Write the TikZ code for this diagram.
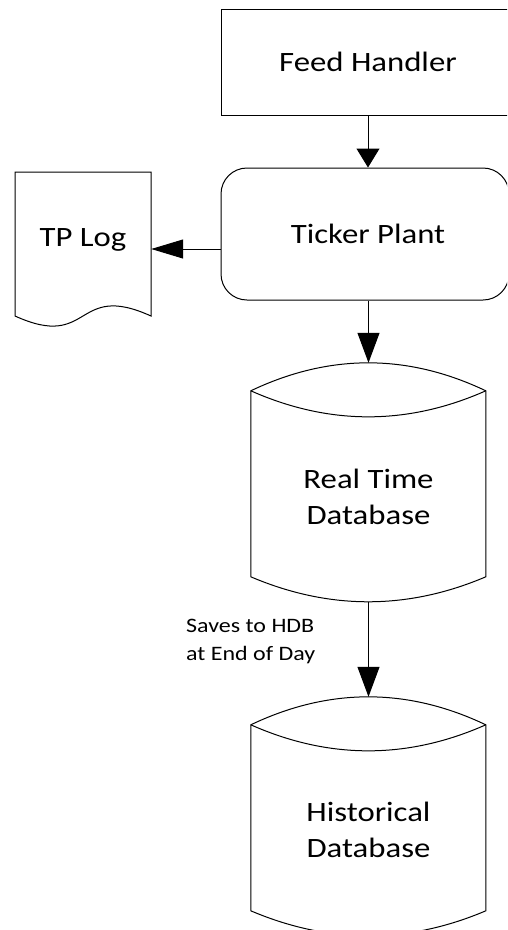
\documentclass[tikz,border=0pt]{standalone}
\usepackage{fontspec}
\setmainfont[FakeStretch=1.17]{Carlito}
\usetikzlibrary{arrows.meta,calc}
\tikzset{
  outline/.style={draw=black,line width=1pt},
  boxnode/.style={outline,minimum width=294pt,minimum height=105.5pt,inner sep=0pt,font=\fontsize{28}{36}\selectfont},
  roundnode/.style={outline,rounded corners=26pt,minimum width=288pt,minimum height=132pt,inner sep=0pt,font=\fontsize{28}{36}\selectfont},
  bigtext/.style={align=center,inner sep=0pt,font=\fontsize{28}{36}\selectfont},
  smalltext/.style={align=left,inner sep=0pt,font=\fontsize{20.5}{28}\selectfont},
  conn/.style={draw=black,line width=1pt},
  headA/.style={-{Triangle[length=19pt,width=23pt]}},
  headB/.style={-{Triangle[length=32pt,width=19pt]}},
  headC/.style={-{Triangle[length=30pt,width=22pt]}},
}
\newcommand\lensdb[1]{%
  \begin{scope}[shift={(#1.north west)}]
    \draw[outline] (0,28) .. controls (78.3,-9.3) and (156.7,-9.3) .. (235,28)
      -- (235,214) .. controls (156.7,247.3) and (78.3,247.3) .. (0,214) -- cycle;
    \draw[outline] (0,28) .. controls (78.3,62.7) and (156.7,62.7) .. (235,28);
  \end{scope}}
\begin{document}
\begin{tikzpicture}[x=1pt,y=-1pt]
  \useasboundingbox (0,0) rectangle (507,930);
  \clip (0,0) rectangle (507,930);
  % Feed handler
  \node[boxnode] (fh) at (368,62.25) {Feed Handler};
  % Ticker plant
  \node[roundnode] (tp) at (365,234) {\hspace*{6pt}Ticker Plant};
  % TP Log document
  \node[minimum width=136pt,minimum height=144pt,inner sep=0pt] (tplog) at (83,244) {};
  \draw[outline] (15,316) -- (15,172) -- (151,172) -- (151,316)
     .. controls (74,281) and (92,351) .. (15,316) -- cycle;
  \node[bigtext] (tplogtext) at (83,240) {TP Log};
  % databases
  \node[minimum width=235pt,minimum height=239pt,inner sep=0pt] (rtdb) at (368.5,482.5) {};
  \lensdb{rtdb}
  \node[bigtext] (rtdbtext) at (368.5,497) {Real Time\\Database};
  \node[minimum width=235pt,minimum height=239pt,inner sep=0pt] (hdb) at (368.5,816.5) {};
  \lensdb{hdb}
  \node[bigtext] (hdbtext) at (368.5,830) {Historical\\Database};
  % label
  \node[smalltext,anchor=west] (lbl) at (186,641) {Saves to HDB\\at End of Day};
  % connectors
  \draw[conn,headA] (fh.south) -- (fh.south |- tp.north);
  \draw[conn,headB] ([yshift=-15pt]tp.west) -- ([yshift=-15pt]tp.west -| tplog.east);
  \draw[conn,headC] (tp.south -| rtdb.north) -- (rtdb.north);
  \draw[conn,headC] (rtdb.south) -- (hdb.north);
\end{tikzpicture}
\end{document}
